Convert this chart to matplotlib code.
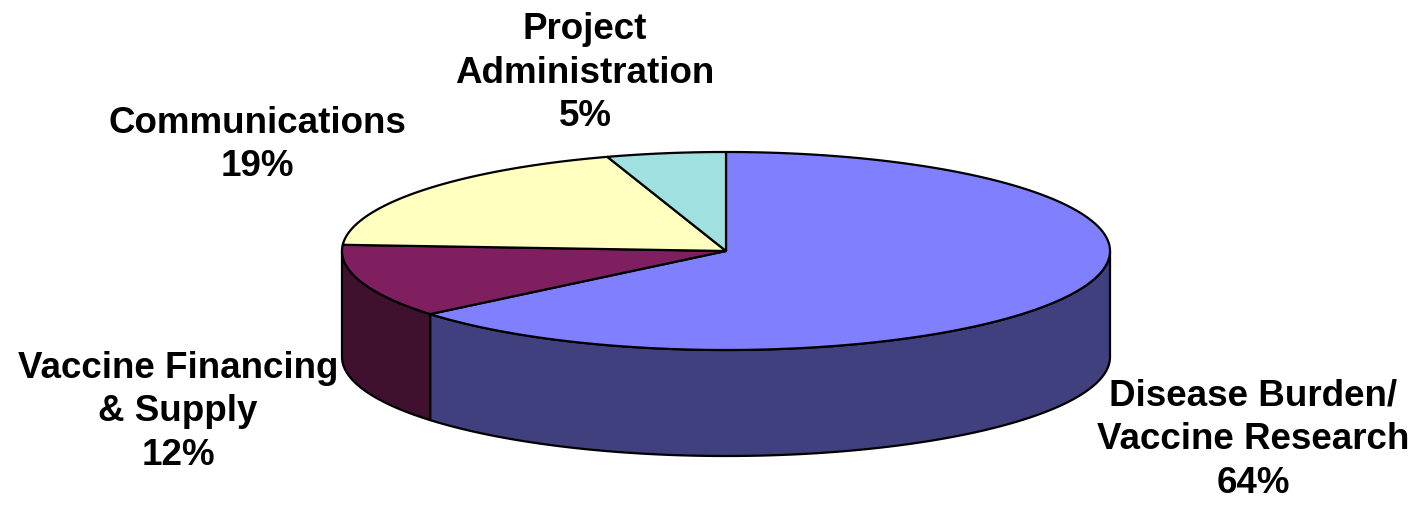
import numpy as np
import matplotlib
matplotlib.use("Agg")
import matplotlib.pyplot as plt
from matplotlib.patches import Polygon

labels = ["Disease Burden/\nVaccine Research", "Vaccine Financing\n& Supply",
          "Communications", "Project\nAdministration"]
values = [64, 12, 19, 5]
top_colors = ["#8080FF", "#7F1F5F", "#FFFFC0", "#A0E0E0"]
side_colors = ["#40407F", "#40102F", "#80805F", "#507070"]

# label anchor (center x, center y) in pixel coords
label_pos = [(1253, 440), (178, 412), (257, 145), (585, 73)]

W, H = 1420, 506
fig = plt.figure(figsize=(W / 100, H / 100), dpi=100)
ax = fig.add_axes([0, 0, 1, 1])
ax.set_xlim(0, W)
ax.set_ylim(H, 0)
ax.axis("off")

cx, cy, rx, ry, depth = 726, 252, 384, 99, 106
lw = 1.6

def pt(theta):
    return cx + rx * np.cos(theta), cy - ry * np.sin(theta)

fracs = np.array(values, dtype=float) / sum(values)
starts = np.deg2rad(90) - 2 * np.pi * np.concatenate([[0], np.cumsum(fracs)[:-1]])
ends = starts - 2 * np.pi * fracs

# sides
for s, e, sc in zip(starts, ends, side_colors):
    th = np.linspace(s, e, 400)
    front = np.sin(th) <= 1e-9
    if not front.any():
        continue
    t = th[front]
    x, y = pt(t)
    xs = np.concatenate([x, x[::-1]])
    ys = np.concatenate([y, (y + depth)[::-1]])
    ax.add_patch(Polygon(np.column_stack([xs, ys]), closed=True,
                         facecolor=sc, edgecolor="black", lw=lw, joinstyle="round"))

# tops
for s, e, tc in zip(starts, ends, top_colors):
    th = np.linspace(s, e, 400)
    x, y = pt(th)
    xs = np.concatenate([[cx], x])
    ys = np.concatenate([[cy], y])
    ax.add_patch(Polygon(np.column_stack([xs, ys]), closed=True,
                         facecolor=tc, edgecolor="black", lw=lw, joinstyle="round"))

for lab, v, (lx, ly) in zip(labels, values, label_pos):
    ax.text(lx, ly, f"{lab}\n{v}%", ha="center", va="center",
            fontsize=26.5, fontweight="bold", family="Liberation Sans",
            linespacing=1.32, multialignment="center")

fig.savefig("out.png", dpi=100)
